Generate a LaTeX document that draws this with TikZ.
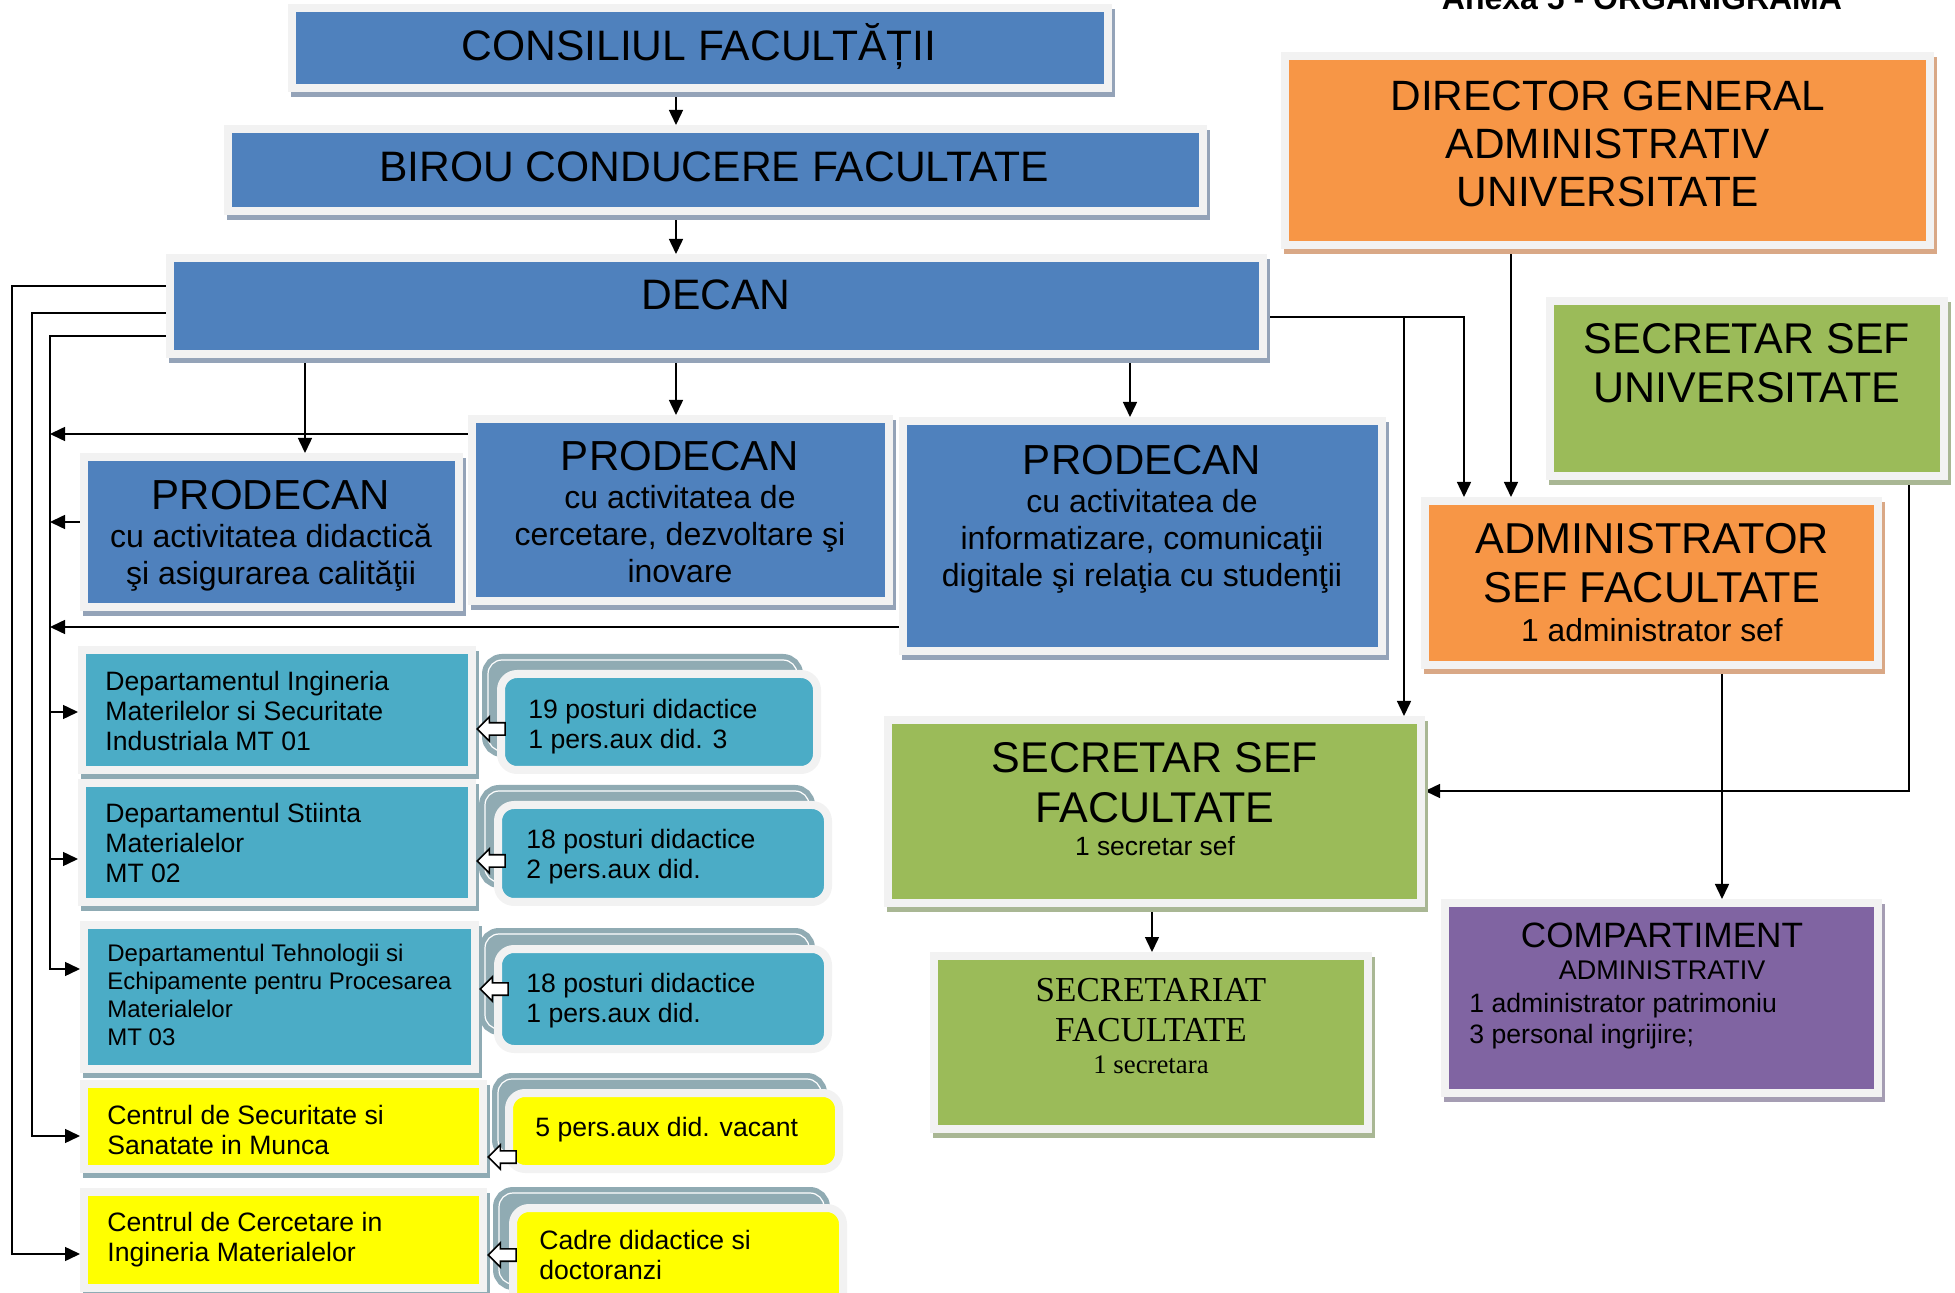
\documentclass[tikz,border=0pt]{standalone}
\usepackage{fontspec}
\setmainfont{Liberation Sans}
\newfontfamily\timesfont{Liberation Serif}
\usetikzlibrary{arrows.meta,shapes.arrows,positioning}
\newcommand{\setfs}[2]{\fontsize{#1}{#2}\selectfont}
\definecolor{boxblue}{HTML}{4F81BD}
\definecolor{boxteal}{HTML}{4BACC6}
\definecolor{boxorange}{HTML}{F79646}
\definecolor{boxgreen}{HTML}{9BBB59}
\definecolor{boxpurple}{HTML}{8064A2}
\definecolor{boxyellow}{HTML}{FFFF00}
\definecolor{framegray}{HTML}{F2F2F2}
\definecolor{shblue}{HTML}{94A3B8}
\definecolor{shteal}{HTML}{8FABB4}
\definecolor{shgreen}{HTML}{A9B794}
\definecolor{shorange}{HTML}{D9A886}
\definecolor{shpurple}{HTML}{A59DB3}
\definecolor{backteal}{HTML}{90ABB3}
\pgfdeclarelayer{bg}
\pgfsetlayers{bg,main}
\tikzset{
  box/.style={rectangle, inner sep=0pt, draw=framegray, line width=4pt, fill=#1},
  shad/.style={preaction={draw=#1, fill=#1, line width=4pt, transform canvas={xshift=1.5pt, yshift=-2.5pt}}},
  front/.style={rectangle, rounded corners=8pt, inner sep=0pt, draw=framegray, line width=4pt, fill=#1},
  back/.style={rectangle, rounded corners=7pt, inner sep=0pt, draw=white, line width=0.6pt, fill=backteal,
    preaction={draw=backteal, line width=6pt}},
  hol/.style={single arrow, draw=black, fill=white, line width=0.8pt, shape border rotate=180,
    minimum height=14pt, inner sep=2.7pt, single arrow head extend=3pt, anchor=tip},
  arr/.style={line width=0.75pt, -{Triangle[length=7.5pt,width=7pt]}},
  txt/.style={inner sep=0pt, align=center},
  ltxt/.style={inner sep=0pt, align=left, anchor=north west, font=\setfs{13.3pt}{15pt}},
}
\begin{document}
\begin{tikzpicture}[x=0.5pt,y=-0.5pt]
\useasboundingbox (0,0) rectangle (1955,1293);

%title, cut at the top of the page
\node[txt, anchor=base, font=\bfseries\setfs{16pt}{16pt}] (title) at (1642,10) {Anexa 5 - ORGANIGRAMA};

%conducere
\node[box=boxblue, shad=shblue, minimum width=408pt, minimum height=40pt] (consiliu) at (700,48) {};
\node[box=boxblue, shad=shblue, minimum width=487.5pt, minimum height=41pt] (birou) at (715.5,170) {};
\node[box=boxblue, shad=shblue, minimum width=546.5pt, minimum height=48pt] (decan) at (716.5,306) {};
\node[txt, anchor=base, font=\setfs{21.3pt}{24pt}] (tconsiliu) at (699,61) {CONSILIUL FACULTĂȚII};
\node[txt, anchor=base, font=\setfs{21.3pt}{24pt}] (tbirou) at (714,182) {BIROU CONDUCERE FACULTATE};
\node[txt, anchor=base, font=\setfs{21.3pt}{24pt}] (tdecan) at (716,310) {DECAN};

%prodecani
\node[box=boxblue, shad=shblue, minimum width=187.5pt, minimum height=75pt] (prod1) at (271.5,532) {};
\node[box=boxblue, shad=shblue, minimum width=208.5pt, minimum height=91pt] (prod2) at (680.5,510) {};
\node[box=boxblue, shad=shblue, minimum width=239.5pt, minimum height=115pt] (prod3) at (1142.5,536) {};
\node[txt, anchor=north, font=\setfs{16pt}{18.5pt}] (tprod1) at (271,480)
  {\setfs{21pt}{19pt}PRODECAN\\[0.5pt] cu activitatea didactică\\ şi asigurarea calităţii};
\node[txt, anchor=north, font=\setfs{16pt}{18.5pt}] (tprod2) at (680,441)
  {\setfs{21pt}{19pt}PRODECAN\\[0.5pt] cu activitatea de\\ cercetare, dezvoltare şi\\ inovare};
\node[txt, anchor=north, font=\setfs{16pt}{18.5pt}] (tprod3) at (1142,445)
  {\setfs{21pt}{19pt}PRODECAN\\[0.5pt] cu activitatea de\\ informatizare, comunicaţii\\ digitale şi relaţia cu studenţii};

%administrativ
\node[box=boxorange, shad=shorange, minimum width=322.5pt, minimum height=94.5pt] (director) at (1607.5,150.5) {};
\node[box=boxgreen, shad=shgreen, minimum width=197pt, minimum height=87.5pt] (secuniv) at (1747,388.5) {};
\node[box=boxorange, shad=shorange, minimum width=226.5pt, minimum height=82pt] (admin) at (1651.5,583) {};
\node[box=boxgreen, shad=shgreen, minimum width=266.5pt, minimum height=91.5pt] (secfac) at (1154.5,811.5) {};
\node[box=boxgreen, shad=shgreen, minimum width=217pt, minimum height=86.5pt] (secretariat) at (1151,1042.5) {};
\node[box=boxpurple, shad=shpurple, minimum width=216.5pt, minimum height=95pt] (compart) at (1661.5,998) {};
\node[txt, anchor=north, font=\setfs{21.2pt}{24pt}] (tdirector) at (1608,81)
  {DIRECTOR GENERAL\\ ADMINISTRATIV\\ UNIVERSITATE};
\node[txt, anchor=north, font=\setfs{21.5pt}{24.5pt}] (tsecuniv) at (1747,323)
  {SECRETAR SEF\\ UNIVERSITATE};
\node[txt, anchor=north, font=\setfs{15.9pt}{19.5pt}] (tadmin) at (1652,523)
  {\setfs{21.6pt}{21pt}ADMINISTRATOR\\[5pt] \setfs{21.6pt}{21pt}SEF FACULTATE\\ 1 administrator sef};
\node[txt, anchor=north, font=\setfs{13.2pt}{16.5pt}] (tsecfac) at (1155,742)
  {\setfs{21.5pt}{20pt}SECRETAR SEF\\[8.5pt] \setfs{21.5pt}{20pt}FACULTATE\\ 1 secretar sef};
\node[txt, anchor=north, font=\timesfont\setfs{13.4pt}{16pt}] (tsecretariat) at (1151,978)
  {\setfs{17.5pt}{20pt}SECRETARIAT\\[4pt] \setfs{17.5pt}{20pt}FACULTATE\\ 1 secretara};
\node[txt, anchor=north, font=\setfs{13.5pt}{16pt}] (tcompart) at (1662,923)
  {\setfs{17.6pt}{16pt}COMPARTIMENT\\ ADMINISTRATIV};
\node[ltxt, font=\setfs{13.3pt}{15.5pt}] (tcompart2) at (1469,993)
  {1 administrator patrimoniu\\ 3 personal ingrijire;};

%posturi
\node[back, minimum width=154.5pt, minimum height=45.5pt] (b1) at (642.5,705.5) {};
\node[front=boxteal, minimum width=158pt, minimum height=48pt] (r1) at (659,722) {};
\node[back, minimum width=162pt, minimum height=45.5pt] (b2) at (647,836.5) {};
\node[front=boxteal, minimum width=165pt, minimum height=48.5pt] (r2) at (663,853.5) {};
\node[back, minimum width=162pt, minimum height=47.5pt] (b3) at (647,981.5) {};
\node[front=boxteal, minimum width=165pt, minimum height=50pt] (r3) at (663,999) {};
\node[back, minimum width=161.5pt, minimum height=37.5pt] (b4) at (659.5,1116.5) {};
\node[front=boxyellow, minimum width=165pt, minimum height=38pt] (r4) at (674,1131) {};
\node[back, minimum width=162.5pt, minimum height=45.5pt] (b5) at (661.5,1238.5) {};
\node[front=boxyellow, minimum width=165pt, minimum height=50.5pt] (r5) at (678,1258.5) {};
\node[ltxt] (tr1) at (528,699) {19 posturi didactice\\ 1 pers.aux did. 3};
\node[ltxt] (tr2) at (526,829) {18 posturi didactice\\ 2 pers.aux did.};
\node[ltxt] (tr3) at (526,973) {18 posturi didactice\\ 1 pers.aux did.};
\node[ltxt] (tr4) at (535,1117) {5 pers.aux did. vacant};
\node[ltxt] (tr5) at (539,1230) {Cadre didactice si\\ doctoranzi};

%departamente si centre
\node[box=boxteal, shad=shteal, minimum width=195pt, minimum height=60pt] (mt01) at (277,710) {};
\node[box=boxteal, shad=shteal, minimum width=195pt, minimum height=59.5pt] (mt02) at (277,842.5) {};
\node[box=boxteal, shad=shteal, minimum width=195.5pt, minimum height=72pt] (mt03) at (279.5,997) {};
\node[box=boxyellow, shad=shteal, minimum width=199.5pt, minimum height=42.5pt] (secsan) at (283.5,1126.5) {};
\node[box=boxyellow, shad=shteal, minimum width=199.5pt, minimum height=48pt] (cerc) at (283.5,1240) {};
\node[ltxt] (tmt01) at (105,671) {Departamentul Ingineria\\ Materilelor si Securitate\\ Industriala MT 01};
\node[ltxt] (tmt02) at (105,803) {Departamentul Stiinta\\ Materialelor\\ MT 02};
\node[ltxt, font=\setfs{12pt}{14pt}] (tmt03) at (107,944)
  {Departamentul Tehnologii si\\ Echipamente pentru Procesarea\\ Materialelor\\ MT 03};
\node[ltxt] (tsecsan) at (107,1105) {Centrul de Securitate si\\ Sanatate in Munca};
\node[ltxt] (tcerc) at (107,1212) {Centrul de Cercetare in\\ Ingineria Materialelor};

%sageti goale
\node[hol] (h1) at (mt01.east |- 0,729) {};
\node[hol] (h2) at (mt02.east |- 0,861) {};
\node[hol] (h3) at (mt03.east |- 0,989) {};
\node[hol] (h4) at (secsan.east |- 0,1157) {};
\node[hol] (h5) at (cerc.east |- 0,1255) {};

%legaturi
\begin{pgfonlayer}{bg}
\draw[arr] (consiliu.south -| 676,0) -- (birou.north -| 676,0);
\draw[arr] (birou.south -| 676,0) -- (decan.north -| 676,0);
\draw[arr] (decan.south -| 305,0) -- (prod1.north -| 305,0);
\draw[arr] (decan.south -| 676,0) -- (prod2.north -| 676,0);
\draw[arr] (decan.south -| 1130,0) -- (prod3.north -| 1130,0);
\draw[arr] (decan.west |- 0,286) -| (12,1254) -- (cerc.west |- 0,1254);
\draw[arr] (decan.west |- 0,313) -| (32,1136) -- (secsan.west |- 0,1136);
\draw[arr] (decan.west |- 0,336) -| (50,969) -- (mt03.west |- 0,969);
\draw[arr] (50,712) -- (mt01.west |- 0,712);
\draw[arr] (50,859) -- (mt02.west |- 0,859);
\draw[arr] (prod2.west |- 0,434) -- (50,434);
\draw[arr] (prod1.west |- 0,522) -- (50,522);
\draw[arr] (prod3.west |- 0,627) -- (50,627);
\draw[arr] (decan.east |- 0,317) -| (admin.north -| 1464,0);
\draw[arr] (1404,317) -- (secfac.north -| 1404,0);
\draw[arr] (director.south -| 1511,0) -- (admin.north -| 1511,0);
\draw[arr] (secuniv.south -| 1909,0) |- (secfac.east |- 0,791);
\draw[arr] (admin.south -| 1722,0) -- (compart.north -| 1722,0);
\draw[arr] (secfac.south -| 1152,0) -- (secretariat.north -| 1152,0);
\end{pgfonlayer}
\end{tikzpicture}
\end{document}
